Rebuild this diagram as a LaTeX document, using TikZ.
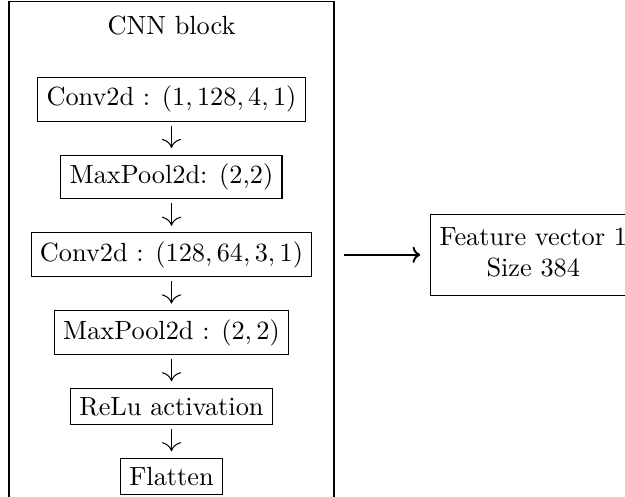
\documentclass[tikz,border=0pt]{standalone}
\usepackage{tikz}
\usetikzlibrary{arrows.meta,positioning,fit}
\tikzset{
  layerbox/.style={draw},
  blockframe/.style={draw, inner xsep=8.25pt, inner ysep=1.8pt},
  featbox/.style={draw, align=center},
  flow/.style={-{To[scale=1.4]}, shorten <=1.5pt, shorten >=2.5pt},
  oflow/.style={-{To[scale=0.9]}, line width=0.75pt}
}
\begin{document}
\begin{tikzpicture}[node distance=12.5pt]
  \useasboundingbox (0,0) rectangle (237.64pt,-188.97pt);
  \clip (0,0) rectangle (237.64pt,-188.97pt);

  % layers of the CNN block
  \node[layerbox] (c1) at (65.2pt,-37.75pt) {Conv2d : $(1, 128, 4, 1)$};
  \node[layerbox, below=of c1] (p1) {MaxPool2d: (2,2)};
  \node[layerbox, below=of p1] (c2) {Conv2d : $(128, 64, 3, 1)$};
  \node[layerbox, below=of c2] (p2) {MaxPool2d : $(2, 2)$};
  \node[layerbox, below=of p2] (act) {ReLu activation};
  \node[layerbox, below=of act] (fl) {Flatten};
  \node[above=of c1] (title) {CNN block};

  % frame runs on past the bottom edge
  \coordinate[below=10pt of fl] (bot);
  \node[blockframe, fit=(title)(c2)(bot)] (block) {};

  \foreach \a/\b in {c1/p1,p1/c2,c2/p2,p2/act,act/fl}
    \draw[flow] (\a) -- (\b);

  \coordinate (mid) at (block.east |- c2);
  \node[featbox, right=36.4pt of mid] (feat) {Feature vector 1\strut\\Size 384\strut};
  \draw[oflow, shorten <=3.6pt, shorten >=3.8pt] (mid) -- (feat);
\end{tikzpicture}
\end{document}
